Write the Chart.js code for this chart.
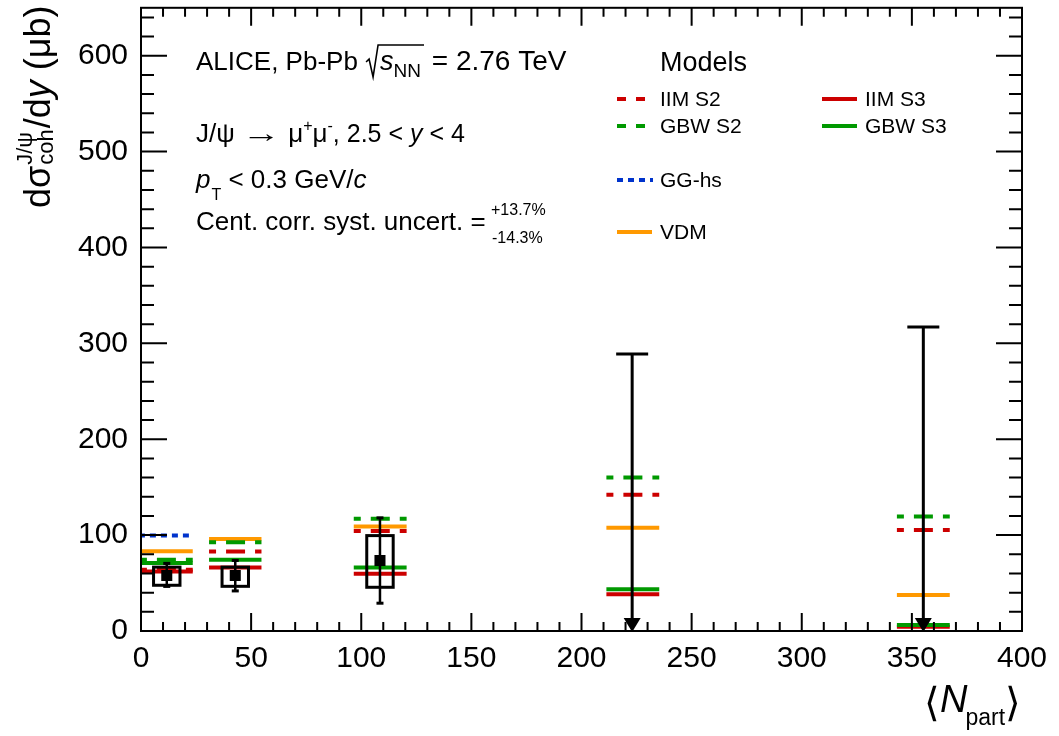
<!DOCTYPE html>
<html>
<head>
<meta charset="utf-8">
<script src="https://cdn.jsdelivr.net/npm/chart.js@4.4.0/dist/chart.umd.min.js"></script>
<style>
  html, body { margin: 0; padding: 0; background: #fff; }
</style>
</head>
<body>
<canvas id="chart" width="1059" height="736"></canvas>
<script>
const FONT = '"Liberation Sans", Arial, Helvetica, sans-serif';

// measured coherent J/psi cross section (first three centrality bins)
const measX = [11.7, 42.8, 108.5];
const measY = [58, 58, 73.6];
const statLo = [46.5, 41.8, 29];
const statHi = [70.5, 73.6, 118];
const systLo = [47.7, 46.6, 45.6];
const systHi = [66.6, 66.6, 99.5];
const systHalfWidth = 6;

// upper limits (two most central bins)
const ulX = [223, 355.2];
const ulY = [289, 317];

// model predictions, one value per centrality bin
const binLo = [-0.5, 30.9, 96.6, 211.3, 343.2];
const binHi = [23.5, 54.7, 120.6, 235.3, 367.2];
const iimS2 = [64, 82.9, 104.3, 142, 105.4];
const iimS3 = [62, 66.3, 59.8, 38.3, 4.5];
const gbwS2 = [74.3, 92.6, 117, 160, 119.5];
const gbwS3 = [70.8, 74.3, 66.3, 43.5, 6.2];
const ggHs  = [99.5, null, null, null, null];
const vdm   = [83.2, 96, 109, 107.8, 37.6];

const xTicks = [0, 50, 100, 150, 200, 250, 300, 350, 400];
const yTicks = [0, 100, 200, 300, 400, 500, 600];
const xMinorStep = 10;
const yMinorStep = 20;

const RED = '#cc0000';
const GREEN = '#009900';
const BLUE = '#0033cc';
const ORANGE = '#ff9900';
const DASH = [19, 10];
const DOT = [6, 5];

// turn per-bin values into horizontal segments separated by gaps
function segments(vals) {
  const pts = [];
  vals.forEach((v, i) => {
    if (v === null) return;
    pts.push({ x: binLo[i], y: v }, { x: binHi[i], y: v }, { x: binHi[i], y: null });
  });
  return pts;
}

function modelSet(label, vals, color, dash) {
  return {
    type: 'line',
    label: label,
    data: segments(vals),
    borderColor: color,
    borderWidth: 4,
    borderDash: dash || [],
    borderDashOffset: dash ? 12 : 0,
    borderCapStyle: 'butt',
    pointRadius: 0,
    spanGaps: false,
    tension: 0
  };
}

function txt(ctx, s, x, y, size, italic) {
  ctx.font = (italic ? 'italic ' : '') + size + 'px ' + FONT;
  ctx.fillText(s, x, y);
  return ctx.measureText(s).width;
}

// text stretched horizontally (used for the long arrow)
function wideTxt(ctx, s, x, y, size, sx) {
  ctx.save();
  ctx.font = size + 'px ' + FONT;
  ctx.translate(x, y);
  ctx.scale(sx, 1);
  ctx.fillText(s, 0, 0);
  const w = ctx.measureText(s).width * sx;
  ctx.restore();
  return w;
}

// frame, inward ticks, error bars, boxes, limits
const decorations = {
  id: 'decorations',
  afterDatasetsDraw(chart) {
    const ctx = chart.ctx;
    const a = chart.chartArea;
    const xs = chart.scales.x, ys = chart.scales.y;
    ctx.save();
    ctx.strokeStyle = '#000';
    ctx.fillStyle = '#000';

    // systematic boxes
    ctx.lineWidth = 3;
    measX.forEach((x, i) => {
      const l = xs.getPixelForValue(x - systHalfWidth), r = xs.getPixelForValue(x + systHalfWidth);
      const t = ys.getPixelForValue(systHi[i]), b = ys.getPixelForValue(systLo[i]);
      ctx.strokeRect(l, t, r - l, b - t);
    });

    // statistical error bars
    ctx.lineWidth = 2.5;
    measX.forEach((x, i) => {
      const px = xs.getPixelForValue(x);
      const t = ys.getPixelForValue(statHi[i]), b = ys.getPixelForValue(statLo[i]);
      ctx.beginPath();
      ctx.moveTo(px, t); ctx.lineTo(px, b);
      ctx.stroke();
      ctx.fillRect(px - 3.5, t - 1.5, 7, 3);
      ctx.fillRect(px - 3.5, b - 1.5, 7, 3);
    });

    // upper limits
    ctx.lineWidth = 3;
    ulX.forEach((x, i) => {
      const px = xs.getPixelForValue(x);
      const t = ys.getPixelForValue(ulY[i]), b = ys.getPixelForValue(0);
      ctx.beginPath();
      ctx.moveTo(px - 16, t); ctx.lineTo(px + 16, t);
      ctx.moveTo(px, t); ctx.lineTo(px, b - 8);
      ctx.stroke();
      ctx.beginPath();
      ctx.moveTo(px - 8.5, b - 13); ctx.lineTo(px + 8.5, b - 13); ctx.lineTo(px, b + 1);
      ctx.closePath();
      ctx.fill();
    });

    // frame
    ctx.lineWidth = 2;
    ctx.strokeRect(a.left, a.top, a.right - a.left, a.bottom - a.top);

    // ticks
    ctx.beginPath();
    for (let v = 0; v <= xs.max + 0.001; v += xMinorStep) {
      const px = xs.getPixelForValue(v);
      const len = xTicks.includes(v) ? 18 : 9;
      ctx.moveTo(px, a.bottom); ctx.lineTo(px, a.bottom - len);
      ctx.moveTo(px, a.top); ctx.lineTo(px, a.top + len);
    }
    for (let v = 0; v <= ys.max + 0.001; v += yMinorStep) {
      const py = ys.getPixelForValue(v);
      const len = yTicks.includes(v) ? 26 : 13;
      ctx.moveTo(a.left, py); ctx.lineTo(a.left + len, py);
      ctx.moveTo(a.right, py); ctx.lineTo(a.right - len, py);
    }
    ctx.stroke();
    ctx.restore();
  },

  afterDraw(chart) {
    const ctx = chart.ctx;
    ctx.save();
    ctx.fillStyle = '#000';
    ctx.strokeStyle = '#000';
    ctx.textAlign = 'left';
    ctx.textBaseline = 'alphabetic';

    // y axis title
    ctx.save();
    ctx.translate(50, 208);
    ctx.rotate(-Math.PI / 2);
    let u = 0;
    u += txt(ctx, 'd\u03C3', u, 0, 36);
    const wSup = txt(ctx, 'J/\u03C8', u + 1, -18, 22);
    const wSub = txt(ctx, 'coh', u + 1, 3, 22);
    u += Math.max(wSup, wSub) + 2;
    u += txt(ctx, '/d', u, 0, 36);
    u += txt(ctx, 'y', u, 0, 36, true);
    txt(ctx, ' (\u03BCb)', u, 0, 36);
    ctx.restore();

    // x axis title
    let x = 924;
    x += txt(ctx, '\u27E8', x, 716, 40);
    x += txt(ctx, 'N', x, 712, 38, true);
    x += txt(ctx, 'part', x - 2, 725, 23) - 2;
    txt(ctx, '\u27E9', x, 716, 40);

    // annotations
    x = 196;
    x += txt(ctx, 'ALICE, Pb-Pb ', x, 70, 26);
    ctx.lineWidth = 1.6;
    const rx = x + 1;
    x += 15;
    let inner = txt(ctx, 's', x, 70, 27, true);
    inner += txt(ctx, 'NN', x + inner, 77, 19);
    ctx.beginPath();
    ctx.moveTo(rx, 62); ctx.lineTo(rx + 3, 59); ctx.lineTo(rx + 7, 77);
    ctx.lineTo(rx + 12, 45); ctx.lineTo(x + inner + 3, 45);
    ctx.stroke();
    x += inner + 3;
    txt(ctx, ' = 2.76 TeV', x, 70, 28);

    x = 196;
    x += txt(ctx, 'J/\u03C8 ', x, 142, 26);
    x += wideTxt(ctx, '\u2192', x, 142, 26, 1.5);
    x += txt(ctx, ' \u03BC', x, 142, 26);
    x += txt(ctx, '+', x, 131, 16);
    x += txt(ctx, '\u03BC', x, 142, 26);
    x += txt(ctx, '-', x, 131, 16);
    x += txt(ctx, ', 2.5 < ', x, 142, 25);
    x += txt(ctx, 'y', x, 142, 25, true);
    txt(ctx, ' < 4', x, 142, 25);

    x = 196;
    x += txt(ctx, 'p', x, 188, 26, true);
    x += txt(ctx, 'T', x + 1, 200, 16) + 1;
    x += txt(ctx, ' < 0.3 GeV/', x, 188, 26);
    txt(ctx, 'c', x, 188, 26, true);

    x = 196;
    x += txt(ctx, 'Cent. corr. syst. uncert. = ', x, 230, 26);
    txt(ctx, '+13.7%', 491, 215, 16);
    txt(ctx, '-14.3%', 492, 243, 16);

    // legend
    txt(ctx, 'Models', 660, 71, 27);
    const rows = [
      { label: 'IIM S2', color: RED, dash: DASH, x0: 617, x1: 645, y: 99, tx: 660 },
      { label: 'GBW S2', color: GREEN, dash: DASH, x0: 617, x1: 645, y: 126, tx: 660 },
      { label: 'GG-hs', color: BLUE, dash: DOT, x0: 617, x1: 653, y: 180, tx: 660 },
      { label: 'VDM', color: ORANGE, dash: null, x0: 617, x1: 652, y: 232, tx: 660 },
      { label: 'IIM S3', color: RED, dash: null, x0: 822, x1: 857, y: 99, tx: 865 },
      { label: 'GBW S3', color: GREEN, dash: null, x0: 822, x1: 857, y: 126, tx: 865 }
    ];
    rows.forEach(r => {
      ctx.save();
      ctx.strokeStyle = r.color;
      ctx.lineWidth = 4;
      ctx.setLineDash(r.dash || []);
      ctx.lineDashOffset = r.dash === DASH ? 10 : 0;
      ctx.beginPath();
      ctx.moveTo(r.x0, r.y); ctx.lineTo(r.x1, r.y);
      ctx.stroke();
      ctx.restore();
      txt(ctx, r.label, r.tx, r.y + 7, 21);
    });
    ctx.restore();
  }
};

const ctx = document.getElementById('chart').getContext('2d');
new Chart(ctx, {
  data: {
    datasets: [
      {
        type: 'scatter',
        label: 'ALICE',
        data: measX.map((x, i) => ({ x: x, y: measY[i] })),
        pointStyle: 'rect',
        pointRadius: 7.8,
        pointBorderWidth: 0,
        backgroundColor: '#000'
      },
      modelSet('GBW S3', gbwS3, GREEN),
      modelSet('IIM S3', iimS3, RED),
      modelSet('GBW S2', gbwS2, GREEN, DASH),
      modelSet('VDM', vdm, ORANGE),
      modelSet('IIM S2', iimS2, RED, DASH),
      modelSet('GG-hs', ggHs, BLUE, DOT)
    ]
  },
  options: {
    responsive: false,
    animation: false,
    events: [],
    layout: { padding: { left: 0, right: 37, top: 3, bottom: 0 } },
    plugins: {
      legend: { display: false },
      tooltip: { enabled: false }
    },
    scales: {
      x: {
        type: 'linear',
        min: 0,
        max: 400,
        afterBuildTicks: s => { s.ticks = xTicks.map(v => ({ value: v })); },
        afterFit: s => { s.height = 105; s.paddingLeft = 0; s.paddingRight = 0; },
        grid: { display: false, drawTicks: false },
        border: { display: false },
        ticks: { color: '#000', font: { size: 30, family: FONT }, padding: 10, maxRotation: 0, autoSkip: false }
      },
      y: {
        type: 'linear',
        min: 0,
        max: 650,
        afterBuildTicks: s => { s.ticks = yTicks.map(v => ({ value: v })); },
        afterFit: s => { s.width = 141; s.paddingTop = 0; s.paddingBottom = 0; },
        grid: { display: false, drawTicks: false },
        border: { display: false },
        ticks: { color: '#000', font: { size: 30, family: FONT }, padding: 13, autoSkip: false }
      }
    }
  },
  plugins: [decorations]
});
</script>
</body>
</html>
